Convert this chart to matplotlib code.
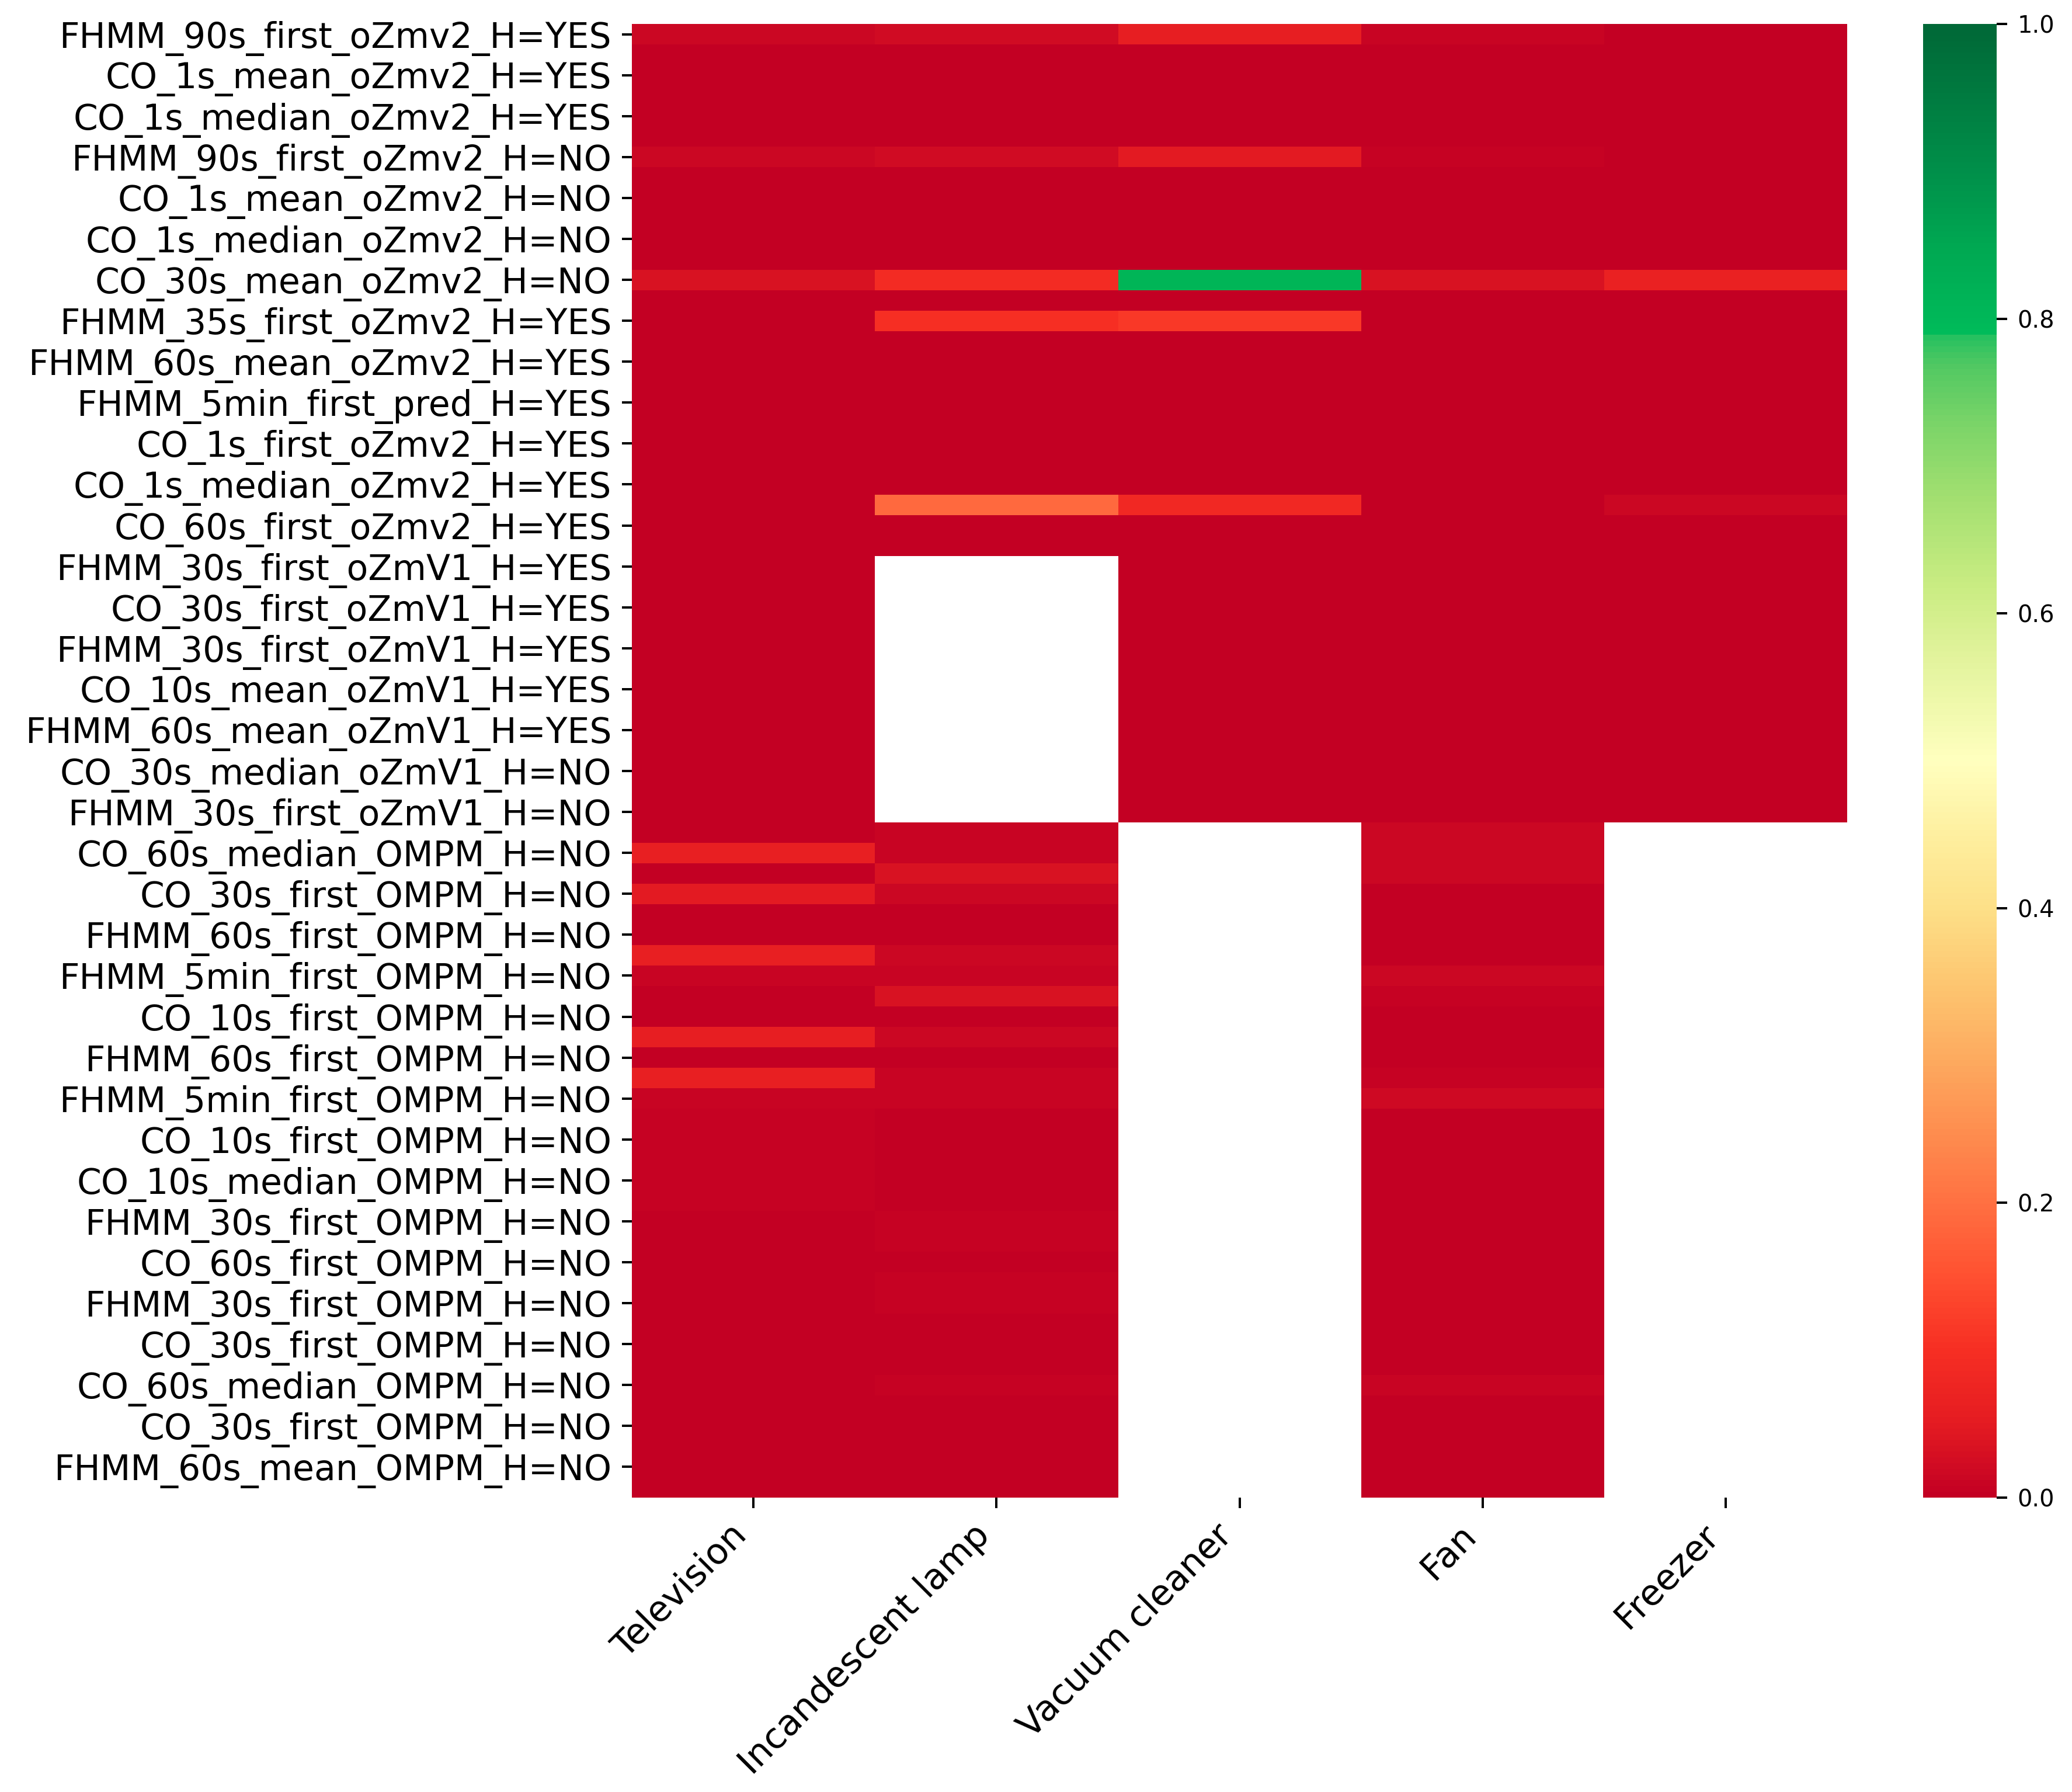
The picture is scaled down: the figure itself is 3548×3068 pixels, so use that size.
import numpy as np
import pandas as pd
import matplotlib
matplotlib.use("Agg")
import matplotlib.pyplot as plt
from matplotlib.colors import LinearSegmentedColormap
import seaborn as sns

nan = np.nan

appliances = ["Television", "Incandescent lamp", "Vacuum cleaner", "Fan", "Freezer"]

# labels shown on every second row of the 72-row heatmap
row_labels = [
    "FHMM_90s_first_oZmv2_H=YES", "CO_1s_mean_oZmv2_H=YES", "CO_1s_median_oZmv2_H=YES",
    "FHMM_90s_first_oZmv2_H=NO", "CO_1s_mean_oZmv2_H=NO", "CO_1s_median_oZmv2_H=NO",
    "CO_30s_mean_oZmv2_H=NO", "FHMM_35s_first_oZmv2_H=YES", "FHMM_60s_mean_oZmv2_H=YES",
    "FHMM_5min_first_pred_H=YES", "CO_1s_first_oZmv2_H=YES", "CO_1s_median_oZmv2_H=YES",
    "CO_60s_first_oZmv2_H=YES", "FHMM_30s_first_oZmV1_H=YES", "CO_30s_first_oZmV1_H=YES",
    "FHMM_30s_first_oZmV1_H=YES", "CO_10s_mean_oZmV1_H=YES", "FHMM_60s_mean_oZmV1_H=YES",
    "CO_30s_median_oZmV1_H=NO", "FHMM_30s_first_oZmV1_H=NO", "CO_60s_median_OMPM_H=NO",
    "CO_30s_first_OMPM_H=NO", "FHMM_60s_first_OMPM_H=NO", "FHMM_5min_first_OMPM_H=NO",
    "CO_10s_first_OMPM_H=NO", "FHMM_60s_first_OMPM_H=NO", "FHMM_5min_first_OMPM_H=NO",
    "CO_10s_first_OMPM_H=NO", "CO_10s_median_OMPM_H=NO", "FHMM_30s_first_OMPM_H=NO",
    "CO_60s_first_OMPM_H=NO", "FHMM_30s_first_OMPM_H=NO", "CO_30s_first_OMPM_H=NO",
    "CO_60s_median_OMPM_H=NO", "CO_30s_first_OMPM_H=NO", "FHMM_60s_mean_OMPM_H=NO",
]

television = [
    0.015, 0, 0, 0, 0, 0, 0.012, 0, 0, 0, 0, 0,
    0.035, 0, 0, 0, 0, 0, 0, 0, 0, 0, 0, 0,
    0, 0, 0, 0, 0, 0, 0, 0, 0, 0, 0, 0,
    0, 0, 0, 0, 0.06, 0, 0.05, 0, 0, 0.06, 0.01, 0,
    0, 0.055, 0, 0.06, 0.01, 0.004, 0.004, 0.004, 0.004, 0.004, 0.003, 0.003,
    0.003, 0.003, 0.003, 0.003, 0.003, 0.003, 0.003, 0.002, 0.002, 0.002, 0.002, 0.002,
]

incandescent = [
    0.02, 0, 0, 0, 0, 0, 0.02, 0, 0, 0, 0, 0,
    0.09, 0, 0.10, 0, 0, 0, 0, 0, 0, 0, 0, 0.19,
    0, 0, nan, nan, nan, nan, nan, nan, nan, nan, nan, nan,
    nan, nan, nan, 0.008, 0.008, 0.035, 0.015, 0, 0, 0.012, 0.01, 0.035,
    0, 0.015, 0.003, 0.01, 0.01, 0.003, 0.003, 0.003, 0.003, 0.003, 0.006, 0.006,
    0.003, 0.006, 0.006, 0.003, 0.003, 0.003, 0.006, 0.003, 0.003, 0.003, 0.003, 0.003,
]

vacuum_cleaner = [
    0.055, 0, 0, 0, 0, 0, 0.05, 0, 0, 0, 0, 0,
    0.81, 0, 0.115, 0, 0, 0, 0, 0, 0, 0, 0, 0.085,
    0, 0, 0, 0, 0, 0, 0, 0, 0, 0, 0, 0,
    0, 0, 0, nan, nan, nan, nan, nan, nan, nan, nan, nan,
    nan, nan, nan, nan, nan, nan, nan, nan, nan, nan, nan, nan,
    nan, nan, nan, nan, nan, nan, nan, nan, nan, nan, nan, nan,
]

fan = [
    0.01, 0, 0, 0, 0, 0, 0.005, 0, 0, 0, 0, 0,
    0.035, 0, 0, 0, 0, 0, 0, 0, 0, 0, 0, 0,
    0, 0, 0, 0, 0, 0, 0, 0, 0, 0, 0, 0,
    0, 0, 0, 0.012, 0.012, 0.012, 0, 0, 0, 0, 0.015, 0.006,
    0, 0, 0, 0.006, 0.017, 0, 0, 0, 0, 0, 0, 0,
    0, 0, 0, 0, 0, 0, 0.01, 0, 0, 0, 0, 0,
]

freezer = [
    0, 0, 0, 0, 0, 0, 0, 0, 0, 0, 0, 0,
    0.065, 0, 0, 0, 0, 0, 0, 0, 0, 0, 0, 0.015,
    0, 0, 0, 0, 0, 0, 0, 0, 0, 0, 0, 0,
    0, 0, 0, nan, nan, nan, nan, nan, nan, nan, nan, nan,
    nan, nan, nan, nan, nan, nan, nan, nan, nan, nan, nan, nan,
    nan, nan, nan, nan, nan, nan, nan, nan, nan, nan, nan, nan,
]

df = pd.DataFrame({
    appliances[0]: television,
    appliances[1]: incandescent,
    appliances[2]: vacuum_cleaner,
    appliances[3]: fan,
    appliances[4]: freezer,
})

cmap = LinearSegmentedColormap.from_list("custom_rdylgn", [
    (0.00, "#c30023"), (0.05, "#e51c22"), (0.10, "#f72f23"), (0.15, "#ff5131"),
    (0.20, "#ff7142"), (0.25, "#fe8f50"), (0.30, "#fdac60"), (0.35, "#fdc771"),
    (0.40, "#fde088"), (0.45, "#feef9f"), (0.50, "#ffffbf"), (0.57, "#e2f39c"),
    (0.62, "#c9ec82"), (0.68, "#a2df70"), (0.73, "#7ad468"), (0.77, "#50c862"),
    (0.788, "#28c160"), (0.792, "#00bb5a"), (0.85, "#00a852"), (0.90, "#00904a"),
    (1.00, "#006837"),
])

fig = plt.figure(figsize=(3548 / 360, 3068 / 360), dpi=360)
ax = fig.add_axes([0.3050, 0.1643, 0.5865, 0.8223])
cax = fig.add_axes([0.9282, 0.1643, 0.0355, 0.8223])

sns.heatmap(df, cmap=cmap, vmin=0, vmax=1, ax=ax, cbar_ax=cax,
            yticklabels=False, xticklabels=True)

n_rows = len(df)
ax.set_yticks(np.arange(0, n_rows, 2) + 0.5)
ax.set_yticklabels(row_labels, fontsize=12, rotation=0)
ax.set_xticklabels(appliances, fontsize=12.2, rotation=45, ha="right")
ax.tick_params(axis="both", length=3.5, width=0.8)

cax.set_yticks([0, 0.2, 0.4, 0.6, 0.8, 1.0])
cax.set_yticklabels(["0.0", "0.2", "0.4", "0.6", "0.8", "1.0"])
cax.tick_params(labelsize=8, length=3.5, width=0.8)

fig.savefig("out.png", dpi=360)
